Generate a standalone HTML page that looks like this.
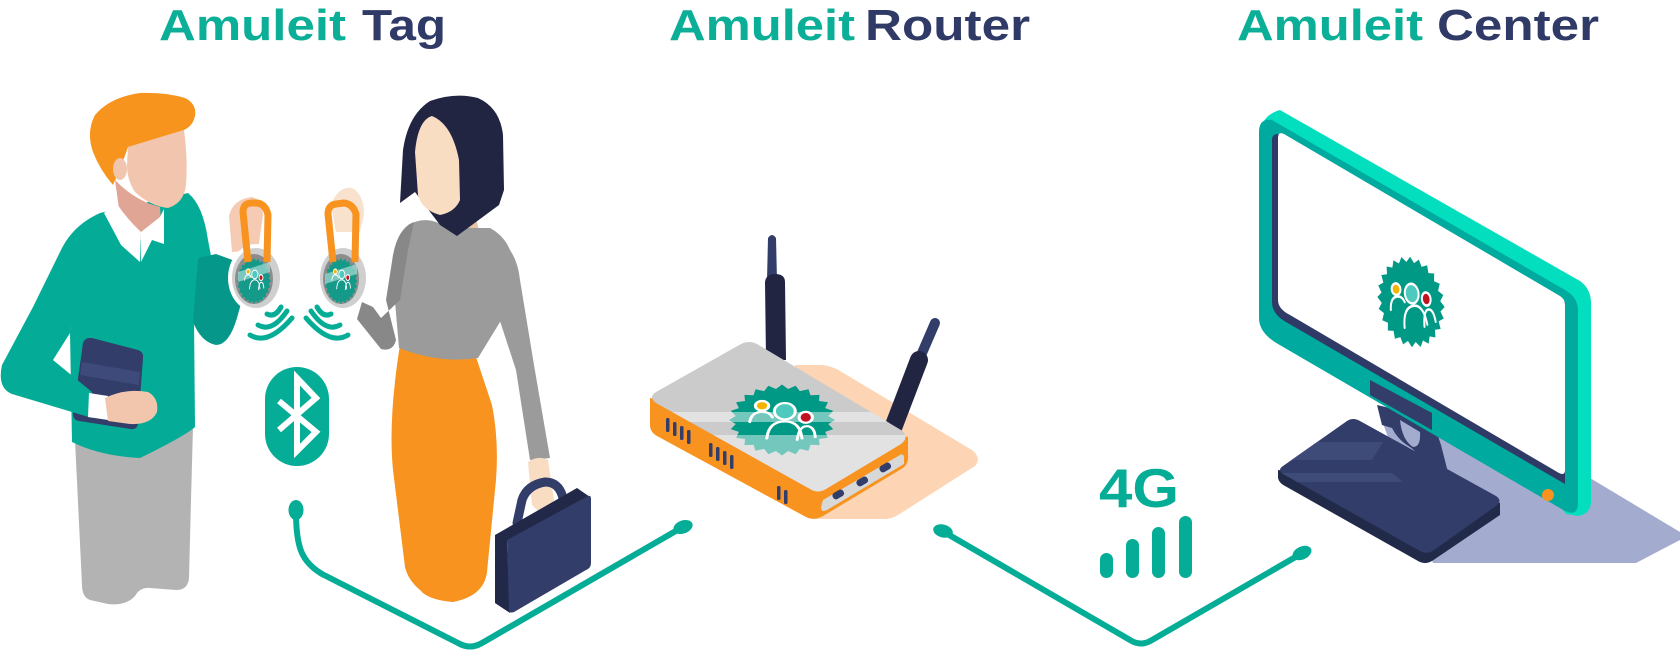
<!DOCTYPE html>
<html><head><meta charset="utf-8">
<style>html,body{margin:0;padding:0;background:#fff;}svg{display:block}</style></head>
<body>
<svg width="1680" height="654" viewBox="0 0 1680 654" xmlns="http://www.w3.org/2000/svg" xmlns:xlink="http://www.w3.org/1999/xlink">
<defs>
<polygon id="star" points="50,0 43.6,5.7 48.3,12.9 40.7,16.8 43.3,25 34.9,26.8 35.4,35.4 26.8,34.9 25,43.3 16.8,40.7 12.9,48.3 5.7,43.6 0,50 -5.7,43.6 -12.9,48.3 -16.8,40.7 -25,43.3 -26.8,34.9 -35.4,35.4 -34.9,26.8 -43.3,25 -40.7,16.8 -48.3,12.9 -43.6,5.7 -50,0 -43.6,-5.7 -48.3,-12.9 -40.7,-16.8 -43.3,-25 -34.9,-26.8 -35.4,-35.4 -26.8,-34.9 -25,-43.3 -16.8,-40.7 -12.9,-48.3 -5.7,-43.6 0,-50 5.7,-43.6 12.9,-48.3 16.8,-40.7 25,-43.3 26.8,-34.9 35.4,-35.4 34.9,-26.8 43.3,-25 40.7,-16.8 48.3,-12.9 43.6,-5.7"/>
<g id="ppl" fill="none" stroke="#fff" stroke-width="3.2" stroke-linecap="round">
 <path d="M-34,6 Q-32,-9 -21,-9 Q-13,-9 -10,-1"/>
 <path d="M-16,30 Q-14,5 3,5 Q19,5 21,30"/>
 <path d="M16,32 Q18,12 26,12 Q34,12 35,28"/>
 <ellipse cx="-21" cy="-18" rx="7" ry="7" fill="#f4b400"/>
 <ellipse cx="3" cy="-10" rx="11" ry="12" fill="#4ec9bd"/>
 <ellipse cx="25" cy="-1" rx="7" ry="8" fill="#c1121f"/>
</g>
<clipPath id="rtop"><path d="M656,392 L741,344 Q749,340 757,344 L901,430 Q910,437 901,444 L826,489 Q818,494 810,489 L656,403 Q648,397 656,392 Z"/></clipPath>
<clipPath id="btop"><path d="M1283,466 L1347,421 Q1353,417 1360,421 L1496,496 Q1503,501 1496,506 L1434,550 Q1427,555 1420,551 L1283,474 Q1277,470 1283,466 Z"/></clipPath>
</defs>

<!-- TITLES -->
<g font-family="Liberation Sans, Arial, sans-serif" font-weight="bold" font-size="44">
<text x="159" y="40" fill="#0bae97" textLength="187" lengthAdjust="spacingAndGlyphs">Amuleit</text>
<text x="362" y="40" fill="#303a67" textLength="84" lengthAdjust="spacingAndGlyphs">Tag</text>
<text x="669" y="40" fill="#0bae97" textLength="186" lengthAdjust="spacingAndGlyphs">Amuleit</text>
<text x="865" y="40" fill="#303a67" textLength="165" lengthAdjust="spacingAndGlyphs">Router</text>
<text x="1237" y="40" fill="#0bae97" textLength="186" lengthAdjust="spacingAndGlyphs">Amuleit</text>
<text x="1437" y="40" fill="#303a67" textLength="162" lengthAdjust="spacingAndGlyphs">Center</text>
</g>

<!-- CONNECTORS -->
<g fill="none" stroke="#05ad97" stroke-width="6" stroke-linecap="round" stroke-linejoin="round">
<path d="M296,512 C296,548 302,562 322,574 L458,643 Q470,650 482,643 L681,528"/>
<path d="M944,532 L1130,640 Q1141,647 1152,640 L1299,555"/>
</g>
<g fill="#05ad97">
<ellipse cx="296" cy="510" rx="7.5" ry="10"/>
<ellipse cx="683" cy="527" rx="10" ry="6.5" transform="rotate(-20 683 527)"/>
<ellipse cx="943" cy="531" rx="10" ry="6.5" transform="rotate(15 943 531)"/>
<ellipse cx="1302" cy="553" rx="10" ry="6.5" transform="rotate(-25 1302 553)"/>
</g>

<!-- MAN -->
<g>
<path d="M75,440 L193,426 L191,500 L189,578 Q188,590 176,590 L150,588 Q140,587 135,596 Q126,606 108,604 L90,600 Q82,597 82,585 Z" fill="#b3b3b3"/>
<path d="M100,213 L188,193 Q203,205 208,240 L216,282 L194,318 L195,427 Q185,436 140,458 Q100,456 72,442 L70,333 L72,250 Z" fill="#04ac97"/>
<path d="M198,258 L216,254 L238,262 L242,300 L237,318 Q229,345 216,345 Q201,342 193,322 Z" fill="#05988a"/>
<path d="M83,343 Q85,337 92,338 L138,350 Q144,352 143,358 L138,424 Q137,430 130,429 L79,421 Q73,420 73,414 Z" fill="#323d6a"/>
<path d="M82,362 L140,372 L139,385 L80,375 Z" fill="#3d4a7a"/>
<path d="M100,213 C80,222 68,235 60,252 L33,307 L2,365 Q-3,388 12,394 L92,418 L92,392 L53,360 L70,333 L74,255 Z" fill="#04ac97"/>
<path d="M89,393 L108,396 L108,420 L88,417 Z" fill="#fff"/>
<path d="M105,398 Q125,388 148,392 Q159,398 157,412 Q151,425 130,424 L108,421 Z" fill="#f2c5ad"/>
<path d="M115,180 Q130,196 150,204 L160,207 L161,222 Q150,236 140,240 L120,216 Z" fill="#e0a594"/>
<path d="M104,213 L117,204 Q128,220 141,232 L140,262 L121,245 Z" fill="#fff"/>
<path d="M141,232 L160,217 L164,209 L164,244 L152,240 L141,262 Z" fill="#fff"/>
<path d="M128,147 L184,130 Q188,160 186,185 Q184,203 168,208 Q150,206 135,192 Q127,180 127,165 Z" fill="#f2c6ae"/>
<path d="M113,185 Q100,170 93,152 Q86,132 95,115 Q110,97 140,93 Q165,92 185,98 Q197,104 195,116 Q193,126 184,130 L128,147 Q122,165 113,185 Z" fill="#f7941d"/>
<ellipse cx="120" cy="169" rx="7" ry="11" fill="#f2c6ae"/>
</g>

<!-- MAN TAG -->
<g>
<path d="M226,216 Q230,196 252,193 Q265,195 266,214 L261,252 L230,254 Z" fill="#fff"/>
<path d="M229,216 Q233,199 252,197 Q262,199 263,215 L258,250 L232,252 Z" fill="#f5cbb3"/>
<ellipse cx="256" cy="278" rx="28" ry="34" fill="#fff"/>
<ellipse cx="256" cy="278" rx="24" ry="30" fill="#cfcfcf"/>
<ellipse cx="254" cy="279" rx="19" ry="25" fill="#8d8d8d"/>
<use xlink:href="#star" href="#star" transform="translate(254,281) scale(0.34,0.46)" fill="#159a8a"/>
<path d="M238,272 L270,262 L270,272 L238,282 Z" fill="#a7dcd5" opacity="0.7"/>
<use xlink:href="#ppl" href="#ppl" transform="translate(254,278) scale(0.28,0.36)"/>
<path d="M248,262 L243,212 Q243,203 252,203 L258,203 Q266,205 268,215 L267,262" fill="none" stroke="#f7931e" stroke-width="7" stroke-linejoin="round"/>
</g>
<g fill="none" stroke="#05ad97" stroke-width="5" stroke-linecap="round">
<path d="M250,335 Q268,346 292,318"/>
<path d="M258,325 Q272,333 287,311"/>
<path d="M267,314 Q275,318 281,307"/>
<path d="M348,335 Q330,346 306,318"/>
<path d="M340,325 Q326,333 311,311"/>
<path d="M331,314 Q323,318 317,307"/>
</g>

<!-- BLUETOOTH -->
<rect x="265" y="367" width="64" height="99" rx="32" fill="#05ad97"/>
<path d="M279,401 L316,432 L297,451 L297,378 L316,398 L279,430" fill="none" stroke="#fff" stroke-width="6"/>

<!-- WOMAN -->
<g>
<path d="M393,470 Q388,420 400,345 Q440,362 476,357 L492,405 Q499,440 496,480 L487,572 Q484,596 453,602 Q428,600 420,590 Q408,580 405,567 Z" fill="#f7931e"/>
<path d="M500,240 Q517,252 520,280 L534,365 L550,458 L530,460 L516,370 L498,315 Z" fill="#9b9b9b"/>
<path d="M441,205 L474,208 L480,236 L455,242 L444,230 Z" fill="#e6c3a5"/>
<path d="M408,225 Q428,214 447,228 L490,228 Q512,240 514,268 L500,322 L478,358 Q440,364 399,348 L394,290 Z" fill="#9b9b9b"/>
<path d="M414,222 Q398,228 393,255 L386,300 L396,340 Q393,352 381,349 L357,319 L362,302 L373,307 L381,318 L400,300 L408,250 Z" fill="#888888"/>
<path d="M400,203 L403,150 Q408,115 430,101 Q455,92 478,98 Q500,108 503,135 L504,190 L499,205 L457,236 L440,225 L415,192 Z" fill="#212542"/>
<path d="M415,152 Q418,120 432,116 Q452,124 459,160 L460,200 Q455,212 440,215 Q422,210 418,195 Z" fill="#f8ddc3"/>
<path d="M528,462 Q538,455 548,460 L554,500 Q550,513 540,513 L532,505 Z" fill="#f8ddc3"/>
<path d="M517,523 L522,500 Q527,485 545,482 Q562,482 564,505" fill="none" stroke="#323d6a" stroke-width="9" stroke-linecap="round"/>
<path d="M495,535 L577,488 L590,497 L507,542 L510,613 L495,603 Z" fill="#222948"/>
<path d="M507,540 L588,496 Q591,495 591,499 L591,563 Q591,568 586,570 L514,612 Q509,614 509,609 Z" fill="#323d6a"/>
</g>

<!-- WOMAN TAG -->
<g>
<path d="M331,205 Q338,186 352,188 Q364,194 364,215 L360,232 L336,232 Z" fill="#f9e2cd"/>
<ellipse cx="343" cy="278" rx="27" ry="34" fill="#fff"/>
<ellipse cx="343" cy="278" rx="23" ry="30" fill="#cfcfcf"/>
<ellipse cx="341" cy="279" rx="18" ry="25" fill="#8d8d8d"/>
<use xlink:href="#star" href="#star" transform="translate(341,281) scale(0.33,0.46)" fill="#159a8a"/>
<path d="M325,274 L357,264 L357,274 L325,284 Z" fill="#a7dcd5" opacity="0.7"/>
<use xlink:href="#ppl" href="#ppl" transform="translate(341,278) scale(0.27,0.36)"/>
<path d="M333,262 L328,214 Q328,205 336,204 L344,203 Q353,204 356,214 L355,262" fill="none" stroke="#f7931e" stroke-width="7" stroke-linejoin="round"/>
</g>

<!-- ROUTER -->
<g>
<path d="M795,365 L822,365 Q832,366 840,371 L972,450 Q982,458 975,466 L898,515 Q892,519 884,519 L812,519 Z" fill="#fdd5b4"/>
<path d="M768,238 Q772,232 776,238 L777,280 L767,280 Z" fill="#323d6a"/>
<path d="M765,282 Q766,274 775,274 Q785,274 785,282 L786,360 L766,360 Z" fill="#212542"/>
<line x1="935" y1="323" x2="919" y2="360" stroke="#323d6a" stroke-width="10" stroke-linecap="round"/>
<line x1="919" y1="360" x2="893" y2="428" stroke="#212542" stroke-width="18" stroke-linecap="round"/>
<path d="M650,398 L650,425 Q650,432 657,436 L806,517 Q814,521 823,516 L903,468 Q908,464 908,458 L908,437 Z" fill="#f7931e"/>
<path d="M656,392 L741,344 Q749,340 757,344 L901,430 Q910,437 901,444 L826,489 Q818,494 810,489 L656,403 Q648,397 656,392 Z" fill="#cbcbcb"/>
<g clip-path="url(#rtop)">
<use xlink:href="#star" href="#star" transform="translate(782,420) scale(1.06,0.71)" fill="#009985"/>
<rect x="600" y="412" width="350" height="10" fill="#fff" opacity="0.45"/>
<rect x="600" y="435" width="350" height="80" fill="#fff" opacity="0.45"/>
<use xlink:href="#ppl" href="#ppl" transform="translate(782,418) scale(0.95,0.68)"/>
</g>
<path d="M823,500 L900,455 Q904,453 904,458 L904,464 L827,510 Q821,513 821,507 Z" fill="#d8d8d8"/>
<g fill="#323d6a">
<rect x="832" y="491" width="12" height="7" rx="3" transform="rotate(-30 838 494)"/>
<rect x="856" y="478" width="12" height="7" rx="3" transform="rotate(-30 862 481)"/>
<rect x="879" y="464" width="12" height="7" rx="3" transform="rotate(-30 885 467)"/>
<rect x="666" y="418" width="3.5" height="14" rx="1.5"/>
<rect x="673" y="422" width="3.5" height="14" rx="1.5"/>
<rect x="680" y="426" width="3.5" height="14" rx="1.5"/>
<rect x="687" y="430" width="3.5" height="14" rx="1.5"/>
<rect x="709" y="443" width="3.5" height="14" rx="1.5"/>
<rect x="716" y="447" width="3.5" height="14" rx="1.5"/>
<rect x="723" y="451" width="3.5" height="14" rx="1.5"/>
<rect x="730" y="455" width="3.5" height="14" rx="1.5"/>
<rect x="777" y="486" width="3.5" height="14" rx="1.5"/>
<rect x="784" y="490" width="3.5" height="14" rx="1.5"/>
</g>
</g>

<!-- 4G -->
<text x="1099" y="507" font-family="Liberation Sans, Arial, sans-serif" font-weight="bold" font-size="55" fill="#05ad97" textLength="80" lengthAdjust="spacingAndGlyphs">4G</text>
<g fill="#05ad97">
<rect x="1100" y="553" width="13" height="25" rx="6.5"/>
<rect x="1126" y="539" width="13" height="39" rx="6.5"/>
<rect x="1152" y="527" width="13" height="51" rx="6.5"/>
<rect x="1179" y="516" width="13" height="62" rx="6.5"/>
</g>

<!-- MONITOR -->
<g>
<path d="M1380,415 L1460,445 L1562,497 L1590,478 L1680,532 L1680,540 L1636,563 L1433,563 Z" fill="#a3abcf"/>
<path d="M1278,470 L1278,478 Q1279,483 1285,486 L1418,561 Q1425,565 1432,561 L1500,515 L1500,503 Z" fill="#222a4a"/>
<path d="M1283,466 L1347,421 Q1353,417 1360,421 L1496,496 Q1503,501 1496,506 L1434,550 Q1427,555 1420,551 L1283,474 Q1277,470 1283,466 Z" fill="#323d6a"/>
<g clip-path="url(#btop)" fill="#3e4a78">
<path d="M1270,442 L1383,442 L1372,460 L1270,460 Z"/>
<path d="M1270,473 L1392,473 L1403,482 L1270,482 Z"/>
</g>
<path d="M1377,405 L1432,418 L1441,445 L1452,488 Q1447,495 1440,492 L1425,470 Q1418,452 1410,447 Q1398,440 1392,428 L1382,425 Z" fill="#323d6a"/>
<path d="M1400,420 Q1402,440 1413,447 Q1421,447 1420,432 Z" fill="#a3abcf"/>
<path d="M1262,125 Q1266,114 1280,110 L1580,281 Q1591,289 1591,303 L1591,503 Q1590,514 1578,516 L1566,514 Z" fill="#03dfbe"/>
<path d="M1259,132 Q1259,118 1272,120 L1565,290 Q1578,297 1578,311 L1578,503 Q1578,517 1565,511 L1278,344 Q1259,333 1259,318 Z" fill="#00aa9e"/>
<path d="M1272,140 Q1272,134 1278,134 L1565,302 L1565,484 L1286,322 Q1272,314 1272,302 Z" fill="#2f3a66"/>
<path d="M1278,138 Q1278,131 1284,134 L1560,296 Q1565,299 1565,305 L1565,470 Q1565,476 1559,473 L1290,315 Q1278,309 1278,300 Z" fill="#fff"/>
<use xlink:href="#star" href="#star" transform="translate(1411,302) rotate(-12) scale(0.66,0.92)" fill="#009985"/>
<use xlink:href="#ppl" href="#ppl" transform="translate(1411,302) rotate(-8) scale(0.62,0.82)"/>
<path d="M1370,380 L1432,413 L1432,430 L1370,395 Z" fill="#323d6a"/>
<circle cx="1548" cy="495" r="6" fill="#f7931e"/>
</g>
</svg>
</body></html>
